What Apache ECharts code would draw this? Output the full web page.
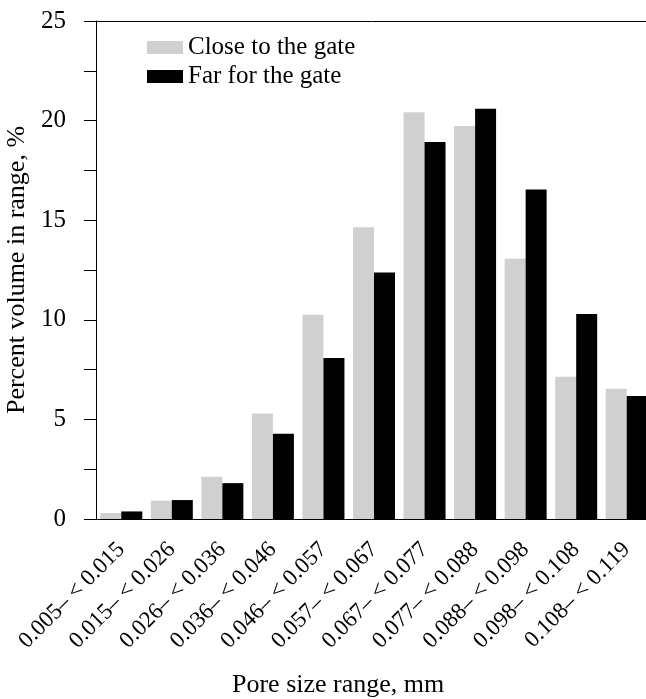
<!DOCTYPE html>
<html>
<head>
<meta charset="utf-8">
<script src="https://cdn.jsdelivr.net/npm/echarts@6/dist/echarts.min.js"></script>
<style>
  html, body { margin: 0; padding: 0; background: #fff; }
  #chart { width: 646px; height: 699px; }
</style>
</head>
<body>
<div id="chart"></div>
<script>
  // pore size ranges, mm
  const categories = [
    '0.005– < 0.015', '0.015– < 0.026', '0.026– < 0.036', '0.036– < 0.046',
    '0.046– < 0.057', '0.057– < 0.067', '0.067– < 0.077', '0.077– < 0.088',
    '0.088– < 0.098', '0.098– < 0.108', '0.108– < 0.119',
  ];
  const closeToGate = [0.3, 0.92, 2.12, 5.3, 10.25, 14.65, 20.42, 19.73, 13.06, 7.14, 6.54];
  const farForGate = [0.38, 0.95, 1.8, 4.28, 8.08, 12.37, 18.92, 20.59, 16.54, 10.29, 6.17];
  const yTicks = [0, 5, 10, 15, 20, 25];

  const font = "'Liberation Serif', 'Times New Roman', serif";
  const chart = echarts.init(document.getElementById('chart'));

  const option = {
    animation: false,
    title: {
      text: 'Pore size range, mm',
      left: 232,
      top: 672,
      padding: 0,
      textStyle: { fontFamily: font, fontSize: 26, fontWeight: 'normal', color: '#000' },
    },
    legend: {
      orient: 'vertical',
      left: 147,
      top: 35,
      padding: 0,
      itemGap: 4,
      itemWidth: 36,
      itemHeight: 13,
      textStyle: { fontFamily: font, fontSize: 25, color: '#000' },
      data: [
        { name: 'Close to the gate', icon: 'rect' },
        { name: 'Far for the gate', icon: 'rect' },
      ],
    },
    grid: {
      left: 96,
      right: -6,
      top: 21,
      bottom: 180,
      containLabel: false,
      outerBoundsMode: 'none',
    },
    xAxis: [
      {
        type: 'category',
        data: categories,
        axisLine: { lineStyle: { color: '#000', width: 1 } },
        axisTick: { alignWithLabel: true, length: 24, lineStyle: { color: '#000' } },
        axisLabel: {
          interval: 0,
          rotate: 45,
          margin: 27,
          fontFamily: font,
          fontSize: 23,
          color: '#000',
        },
      },
      {
        // thin frame line on top
        type: 'category',
        position: 'top',
        data: categories,
        axisLine: { lineStyle: { color: '#000', width: 1 } },
        axisTick: { inside: true, length: 2, lineStyle: { color: '#888' } },
        axisLabel: { show: false },
      },
    ],
    yAxis: {
      type: 'value',
      min: yTicks[0],
      max: yTicks[yTicks.length - 1],
      interval: 5,
      name: 'Percent volume in range, %',
      nameLocation: 'middle',
      nameGap: 63,
      nameTextStyle: { fontFamily: font, fontSize: 26, color: '#000' },
      axisLine: { show: true, lineStyle: { color: '#000', width: 1 } },
      axisTick: { show: true, length: 12, lineStyle: { color: '#000' } },
      minorTick: { show: true, splitNumber: 2, length: 12, lineStyle: { color: '#000' } },
      splitLine: { show: false },
      axisLabel: { margin: 30, fontFamily: font, fontSize: 25, color: '#000' },
    },
    series: [
      {
        name: 'Close to the gate',
        type: 'bar',
        barWidth: 21,
        barGap: '0%',
        itemStyle: { color: '#d0d0d0' },
        data: closeToGate,
      },
      {
        name: 'Far for the gate',
        type: 'bar',
        barWidth: 21,
        barGap: '0%',
        itemStyle: { color: '#000' },
        data: farForGate,
      },
    ],
  };

  chart.setOption(option);
  window.addEventListener('resize', () => chart.resize());
</script>
</body>
</html>
